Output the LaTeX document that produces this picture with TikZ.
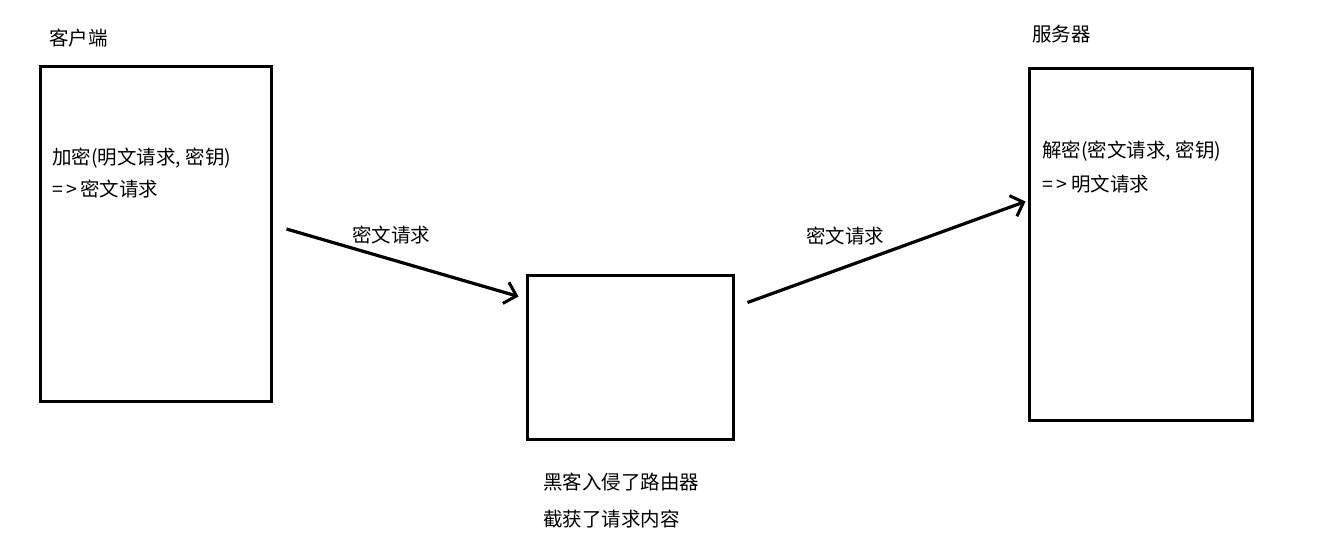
\documentclass[tikz,border=0pt]{standalone}
\usepackage{fontspec}
\setmainfont{Noto Sans CJK SC}
\usetikzlibrary{arrows.meta}
\tikzset{
  box/.style={draw=black, line width=3pt, inner sep=0pt, fill=none},
  txt/.style={inner sep=0pt, anchor=west, font=\fontsize{19.5pt}{22pt}\selectfont, text=black},
  conn/.style={line width=3.2pt, -{Straight Barb[length=11pt,width=22pt,line width=3pt]}}
}
\begin{document}
\begin{tikzpicture}[x=1pt,y=-1pt]
\useasboundingbox (0,0) rectangle (1323,536);
\fill[white] (0,0) rectangle (1323,536);
% boxes
\node[box, minimum width=231pt, minimum height=335pt] (client) at (155.5,233.5) {};
\node[box, minimum width=206pt, minimum height=164pt] (router) at (630,357) {};
\node[box, minimum width=223pt, minimum height=352pt] (server) at (1140.5,244) {};
% titles
\node[txt] (ctitle) at (49,38) {客户端};
\node[txt] (stitle) at (1032,34) {服务器};
% inner texts
\node[txt] (c1) at (52,158) {加密(明文请求, 密钥)};
\node[txt] (c2) at (52,189) {=\,>\,密文请求};
\node[txt] (s1) at (1042,151) {解密(密文请求, 密钥)};
\node[txt] (s2) at (1042,184) {=\,> 明文请求};
\node[txt] (r1) at (543,482) {黑客入侵了路由器};
\node[txt] (r2) at (543,519) {截获了请求内容};
% connector end points
\coordinate (a1s) at ([xshift=14pt,yshift=4.5pt]client.east);
\coordinate (a1e) at ([xshift=-7pt,yshift=-23pt]router.north west);
\coordinate (a2s) at ([xshift=13pt,yshift=-29pt]router.north east);
\coordinate (a2e) at ([xshift=-2pt,yshift=-135pt]server.north west);
\draw[conn] (a1s) -- (a1e);
\draw[conn] (a2s) -- (a2e);
% labels
\node[txt] (l1) at (352,235) {密文请求};
\node[txt] (l2) at (806,236) {密文请求};
\end{tikzpicture}
\end{document}
